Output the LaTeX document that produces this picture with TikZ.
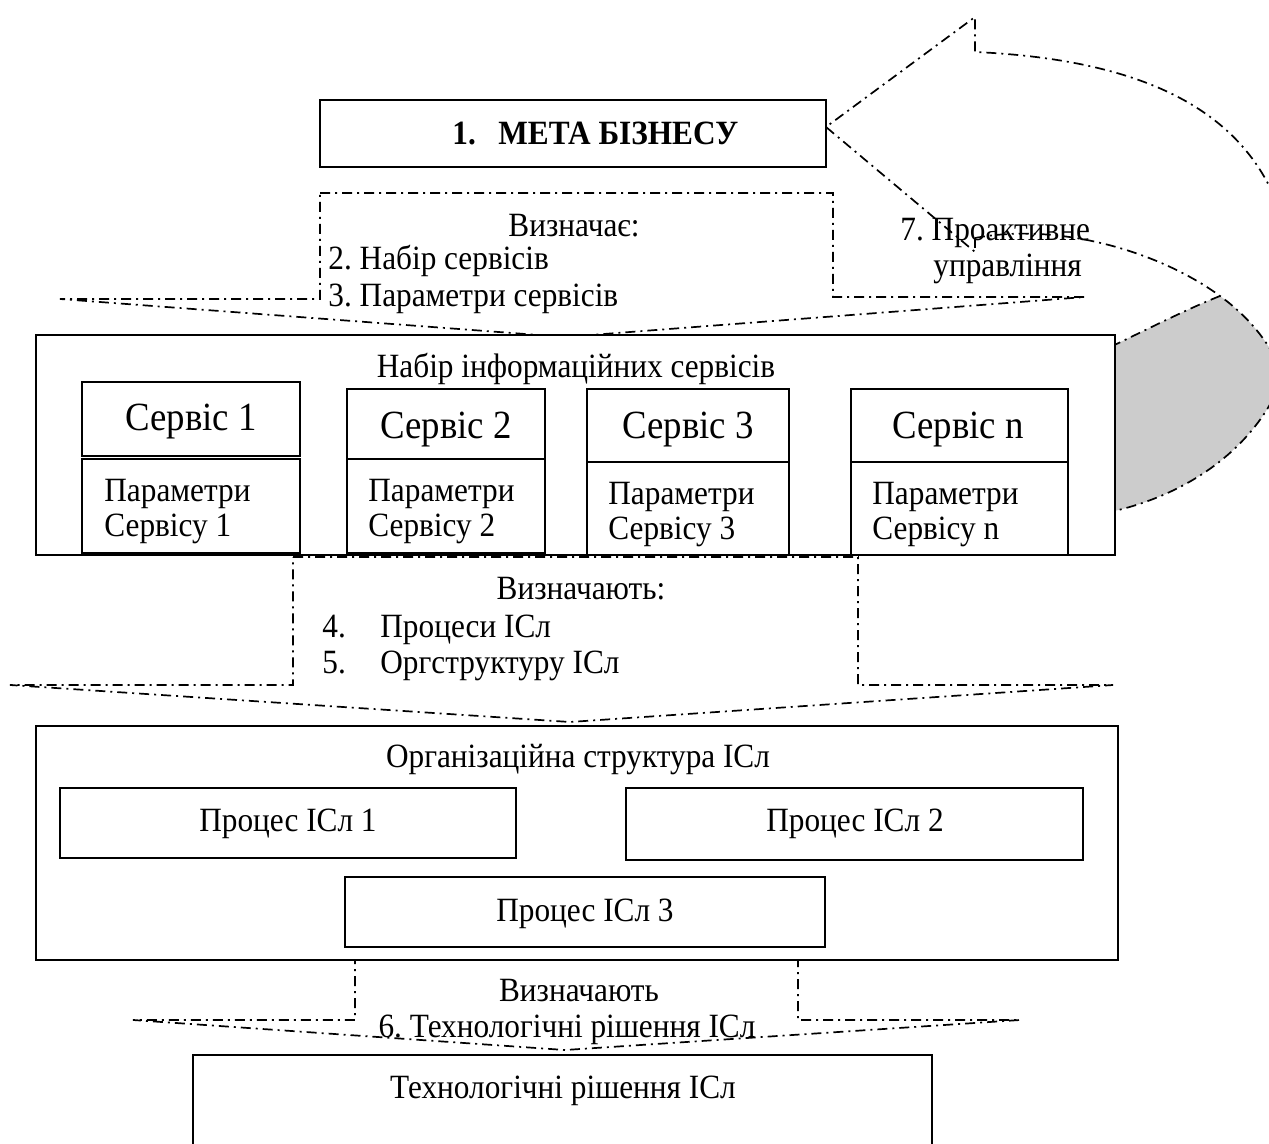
\documentclass[tikz,border=0pt]{standalone}
\usepackage{fontspec}
\setmainfont[FakeStretch=0.92]{Liberation Serif}
\usetikzlibrary{fit}
\begin{document}
\frenchspacing
\begin{tikzpicture}[x=0.5pt,y=-0.5pt,
 box/.style={draw, line width=1pt, fill=white, inner sep=0pt},
 thickbox/.style={box, line width=1.25pt},
 dd/.style={line width=0.85pt, dash pattern=on 5pt off 2.5pt on 1pt off 2.5pt},
 txt/.style={inner sep=0pt, font=\fontsize{17}{20}\selectfont},
 big/.style={inner sep=0pt, font=\fontsize{20}{24}\selectfont},
 bold/.style={inner sep=0pt, font=\fontsize{17}{20}\selectfont\bfseries},
]
\path[use as bounding box] (0,0) rectangle (1269,1144);
\clip (0,0) rectangle (1269,1144);

% gray back part of curved arrow
\fill[gray!40] (1100,352) .. controls (1150,328) and (1185,310) .. (1220,296)
  .. controls (1250,318) and (1272,345) .. (1283,376) -- (1330,376) -- (1330,320) -- (1295,320)
  .. controls (1290,420) and (1210,490) .. (1110,512) -- (1100,512) -- cycle;
% curved arrow outline
\coordinate (tip) at (826,127);
\draw[dd] (975,238) -- (975,252) -- (tip) -- (975,17) -- (975,52)
  .. controls (1195,62) and (1300,145) .. (1295,320)
  .. controls (1290,420) and (1210,490) .. (1110,512);
\draw[dd] (975,238) .. controls (1060,222) and (1160,252) .. (1220,296)
  .. controls (1250,318) and (1272,345) .. (1283,376);
\draw[dd] (1220,296) .. controls (1185,310) and (1150,328) .. (1100,352);

% block arrows
\draw[dd] (320,193) -- (833,193) -- (833,297) -- (1085,297) -- (565,337) -- (60,299) -- (320,299) -- cycle;
\draw[dd] (293,557) -- (858,557) -- (858,685) -- (1113,685) -- (570,722) -- (10,685) -- (293,685) -- cycle;
\draw[dd] (355,960) -- (798,960) -- (798,1020) -- (1020,1020) -- (565,1050) -- (133,1020) -- (355,1020) -- cycle;

% boxes
\node[box, fit={(320,100) (826,167)}] (meta) {};
\node[thickbox, fit={(36,335) (1115,555)}] (nabir) {};
\node[box, fit={(82,382) (300,456)}] (s1a) {};
\node[box, fit={(82,459) (300,553)}] (s1b) {};
\node[box, fit={(347,389) (545,459)}] (s2a) {};
\node[box, fit={(347,459) (545,553)}] (s2b) {};
\node[box, fit={(587,389) (789,462)}] (s3a) {};
\node[box, fit={(587,462) (789,555)}] (s3b) {};
\node[box, fit={(851,389) (1068,462)}] (sna) {};
\node[box, fit={(851,462) (1068,555)}] (snb) {};
\node[box, fit={(36,726) (1118,960)}] (org) {};
\node[box, fit={(60,788) (516,858)}] (p1) {};
\node[box, fit={(626,788) (1083,860)}] (p2) {};
\node[box, fit={(345,877) (825,947)}] (p3) {};
\node[box, fit={(193,1055) (932,1170)}] (tech) {};

% texts
\node[bold, anchor=base west] (t1n) at (452,145) {1.};
\node[bold, anchor=base west] (t1) at (498,145) {МЕТА БІЗНЕСУ};
\node[txt, anchor=base] (v1) at (574,237) {Визначає:};
\node[txt, anchor=base west] (v2) at (328,270) {2. Набір сервісів};
\node[txt, anchor=base west] (v3) at (328,307) {3. Параметри сервісів};
\node[txt, anchor=base west] (pr1) at (900,241) {7. Проактивне};
\node[txt, anchor=base west] (pr2) at (933,277) {управління};
\node[txt, anchor=base] (nt) at (576,378) {Набір інформаційних сервісів};
\node[big, anchor=base] (s1t) at (191,430) {Сервіс 1};
\node[big, anchor=base] (s2t) at (446,438) {Сервіс 2};
\node[big, anchor=base] (s3t) at (688,438) {Сервіс 3};
\node[big, anchor=base] (snt) at (958,438) {Сервіс n};
\node[txt, anchor=base west] (s1p) at (104,502) {Параметри};
\node[txt, anchor=base west] (s1q) at (104,536) {Сервісу 1};
\node[txt, anchor=base west] (s2p) at (368,502) {Параметри};
\node[txt, anchor=base west] (s2q) at (368,536) {Сервісу 2};
\node[txt, anchor=base west] (s3p) at (608,504) {Параметри};
\node[txt, anchor=base west] (s3q) at (608,539) {Сервісу 3};
\node[txt, anchor=base west] (snp) at (872,504) {Параметри};
\node[txt, anchor=base west] (snq) at (872,539) {Сервісу n};
\node[txt, anchor=base] (w1) at (581,599) {Визначають:};
\node[txt, anchor=base west] (w2n) at (322,637) {4.};
\node[txt, anchor=base west] (w2) at (380,637) {Процеси ІСл};
\node[txt, anchor=base west] (w3n) at (322,673) {5.};
\node[txt, anchor=base west] (w3) at (380,673) {Оргструктуру ІСл};
\node[txt, anchor=base] (ot) at (578,767) {Організаційна структура ІСл};
\node[txt, anchor=base] (p1t) at (288,831) {Процес ІСл 1};
\node[txt, anchor=base] (p2t) at (855,831) {Процес ІСл 2};
\node[txt, anchor=base] (p3t) at (585,921) {Процес ІСл 3};
\node[txt, anchor=base] (x1) at (579,1001) {Визначають};
\node[txt, anchor=base] (x2) at (567,1037) {6. Технологічні рішення ІСл};
\node[txt, anchor=base] (tt) at (563,1098) {Технологічні рішення ІСл};
\end{tikzpicture}
\end{document}
